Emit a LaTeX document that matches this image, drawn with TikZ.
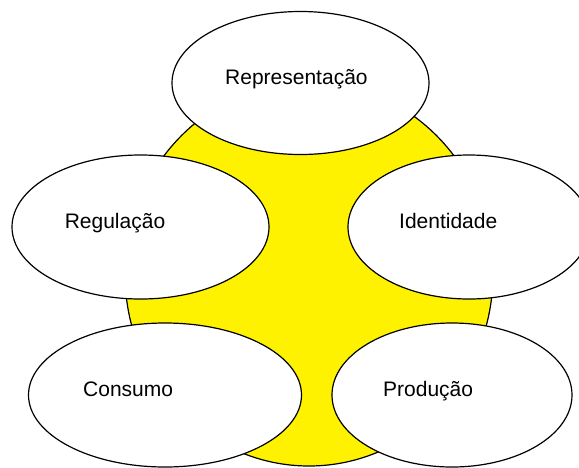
\documentclass[tikz,border=0pt]{standalone}
\usepackage{fontspec}
\setmainfont{Liberation Sans}
\usetikzlibrary{shapes.geometric}
\tikzset{
  blob/.style={ellipse, draw=black, line width=1.2pt, fill=white, inner sep=0pt, outer sep=0pt},
  core/.style={ellipse, draw=black, line width=1.2pt, fill=yellow, inner sep=0pt, outer sep=0pt},
  lbl/.style={anchor=base west, inner sep=0pt, font=\fontsize{21}{25}\selectfont}
}
\begin{document}
\begin{tikzpicture}[x=1pt, y=-1pt]
\useasboundingbox (0,0) rectangle (579,467);
\node[core, minimum width=368pt, minimum height=384pt] (circ) at (309,274) {};
\node[blob, minimum width=257pt, minimum height=143pt] (rep) at (300.5,83) {};
\node[blob, minimum width=257pt, minimum height=144pt] (reg) at (140.5,227) {};
\node[blob, minimum width=242pt, minimum height=144pt] (ide) at (469,227) {};
\node[blob, minimum width=273pt, minimum height=144pt] (con) at (165,395) {};
\node[blob, minimum width=240pt, minimum height=144pt] (pro) at (452,395) {};
\node[lbl] (trep) at (225,84) {Representação};
\node[lbl] (treg) at (64.6,228) {Regulação};
\node[lbl] (tide) at (399,228) {Identidade};
\node[lbl] (tcon) at (83,396) {Consumo};
\node[lbl] (tpro) at (383,396) {Produção};
\end{tikzpicture}
\end{document}
